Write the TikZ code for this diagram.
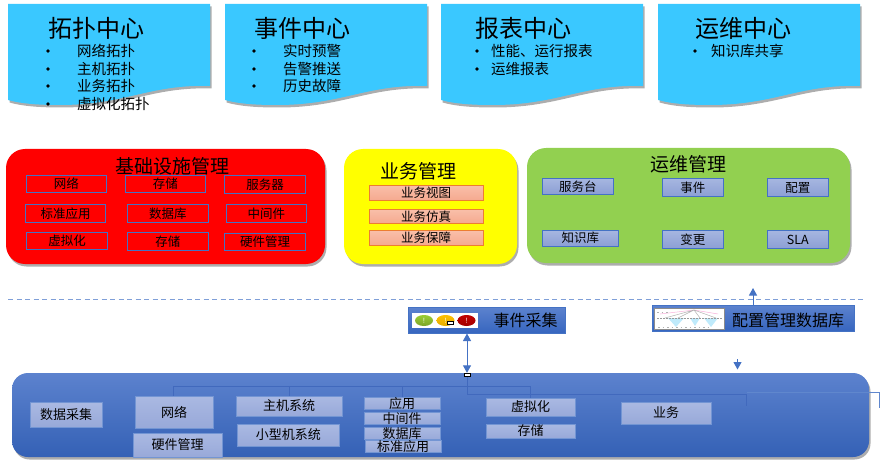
\documentclass[tikz,border=0pt]{standalone}
\usepackage{fontspec}
\setmainfont{Noto Sans CJK SC}
\usetikzlibrary{arrows.meta,shadows,shapes.geometric}
\definecolor{sky}{HTML}{3AC8FF}
\definecolor{linkblue}{HTML}{4472C4}
\definecolor{okgreen}{HTML}{92D050}
\definecolor{pureyellow}{HTML}{FFFF00}
\definecolor{purered}{HTML}{FF0000}
\definecolor{treeblue}{HTML}{4169BD}
\definecolor{dashblue}{HTML}{7F9FD8}
\definecolor{lb1}{HTML}{A6B6E0}\definecolor{lb2}{HTML}{8C9FD4}
\definecolor{lg1}{HTML}{AAB9E2}\definecolor{lg2}{HTML}{98A9D9}
\definecolor{bb1}{HTML}{5C82CE}\definecolor{bb2}{HTML}{3766BF}
\definecolor{oc1}{HTML}{F9BFA9}\definecolor{oc2}{HTML}{F5A98F}
\definecolor{ocb}{HTML}{ED7D31}
\definecolor{lampg}{HTML}{9ACD32}\definecolor{lampy}{HTML}{FFC000}\definecolor{lampr}{HTML}{C00000}
\tikzset{
  shade1/.style={general shadow={shadow xshift=1.5pt,shadow yshift=-2.5pt,fill=black,opacity=.32}},
  topbox/.style={fill=sky,shade1},
  panel/.style={rounded corners=19pt,shade1},
  bxbase/.style={inner sep=0pt,outer sep=0pt,font=\fontsize{12.5}{13}\selectfont,text=black},
  redcell/.style={bxbase,draw=linkblue,line width=.9pt},
  orangecell/.style={bxbase,draw=ocb,line width=.9pt,top color=oc1,bottom color=oc2},
  bluecell/.style={bxbase,draw=linkblue,line width=.9pt,top color=lb1,bottom color=lb2},
  graycell/.style={bxbase,draw=linkblue!75!white,line width=.8pt,top color=lg1,bottom color=lg2,font=\fontsize{13}{14}\selectfont},
  bandbox/.style={bxbase,draw=linkblue,line width=.8pt,top color=bb1,bottom color=bb2},
  ttl/.style={inner sep=0pt,text=black},
  bigttl/.style={ttl,font=\fontsize{24}{26}\selectfont},
  midttl/.style={ttl,font=\fontsize{19}{21}\selectfont},
  item/.style={inner sep=0pt,anchor=west,text=black,font=\fontsize{14.5}{16}\selectfont},
  dotmark/.style={circle,fill=black,inner sep=0pt,minimum size=3.6pt},
  linkline/.style={draw=linkblue,line width=1pt},
  treeline/.style={draw=treeblue,line width=.7pt},
  handle/.style={draw=black,fill=white,line width=.8pt,inner sep=0pt,minimum width=6pt,minimum height=3.5pt},
  lamp/.style={ellipse,inner sep=0pt,minimum width=18pt,minimum height=11pt,font=\fontsize{7}{7}\selectfont,text=white},
}
% box by corners: name, x1,y1,x2,y2, style, text
\newcommand{\bx}[7]{%
  \pgfmathsetmacro{\cxx}{(#2+#4)/2}\pgfmathsetmacro{\cyy}{(#3+#5)/2}%
  \pgfmathsetmacro{\wdd}{#4-#2}\pgfmathsetmacro{\htt}{#5-#3}%
  \node[#6,minimum width=\wdd pt,minimum height=\htt pt] (#1) at (\cxx,\cyy) {#7};}
\newcommand{\wavebox}{%
  \path[topbox] (8,4) -- (210,4) -- (210,86) .. controls (150,84) and (125,105) .. (60,105)
     .. controls (40,105) and (22,104) .. (8,100) -- cycle;}
\begin{document}
\begin{tikzpicture}[x=1pt,y=-1pt]
\useasboundingbox (0,0) rectangle (880,465);
% top wave boxes
\begin{scope}\wavebox\end{scope}
\begin{scope}[xshift=217pt]\wavebox\end{scope}
\begin{scope}[xshift=433pt]\wavebox\end{scope}
\begin{scope}[xshift=650pt]\wavebox\end{scope}
\node[bigttl] (t1) at (96,28) {拓扑中心};
\node[bigttl] (t2) at (302,28) {事件中心};
\node[bigttl] (t3) at (523,28) {报表中心};
\node[bigttl] (t4) at (743,28) {运维中心};
\foreach \n/\y/\s in {a/51/网络拓扑,b/69/主机拓扑,c/86/业务拓扑,d/104/虚拟化拓扑}{
  \node[dotmark] (d1\n) at (48,\y) {};
  \node[item] (i1\n) at (77,\y) {\s};
}
\foreach \n/\y/\s in {a/51/实时预警,b/69/告警推送,c/86/历史故障}{
  \node[dotmark] (d2\n) at (254,\y) {};
  \node[item] (i2\n) at (283,\y) {\s};
}
\foreach \n/\y/\s in {a/51/{性能、运行报表},b/69/运维报表}{
  \node[dotmark] (d3\n) at (477,\y) {};
  \node[item] (i3\n) at (491,\y) {\s};
}
\node[dotmark] (d4a) at (695,51) {};
\node[item] (i4a) at (711,51) {知识库共享};
% management panels
\path[panel,fill=purered] (6,149) rectangle (325,264);
\path[panel,fill=pureyellow] (344,149) rectangle (517,264);
\path[panel,fill=okgreen] (527,148) rectangle (850,263);
\node[midttl] (m1) at (172,166) {基础设施管理};
\node[midttl] (m2) at (418,171) {业务管理};
\node[midttl] (m3) at (688,164) {运维管理};
\bx{r1}{26}{175.5}{106.5}{192.5}{redcell}{网络}
\bx{r2}{125}{175.5}{205.5}{192.5}{redcell}{存储}
\bx{r3}{224.5}{175.5}{305.5}{193.5}{redcell}{服务器}
\bx{r4}{25.5}{204.5}{105.5}{222.5}{redcell}{标准应用}
\bx{r5}{127}{204.5}{208.5}{222.5}{redcell}{数据库}
\bx{r6}{226}{204.5}{306.5}{222.5}{redcell}{中间件}
\bx{r7}{26.5}{232.5}{107.5}{249.5}{redcell}{虚拟化}
\bx{r8}{127}{232.5}{208.5}{250.5}{redcell}{存储}
\bx{r9}{224.5}{233.5}{305.5}{250.5}{redcell}{硬件管理}
\bx{y1}{369}{185.5}{483}{200.5}{orangecell}{业务视图}
\bx{y2}{369}{209.5}{483}{223.5}{orangecell}{业务仿真}
\bx{y3}{369}{230.5}{483}{245.5}{orangecell}{业务保障}
\bx{g1}{542.5}{178.5}{613}{194}{bluecell}{服务台}
\bx{g2}{662.5}{178.5}{723}{196.5}{bluecell}{事件}
\bx{g3}{767.5}{178.5}{828}{196.5}{bluecell}{配置}
\bx{g4}{542.5}{230.5}{618}{246}{bluecell}{知识库}
\bx{g5}{662.5}{230.5}{723}{248.5}{bluecell}{变更}
\bx{g6}{767.5}{230.5}{828}{248.5}{bluecell}{SLA}
% dashed separator
\coordinate (dashL) at (8,299);
\coordinate (dashR) at (865,299);
\draw[draw=dashblue,line width=1pt,dash pattern=on 5pt off 3.5pt] (dashL) -- (dashR);
% bottom band
\path[rounded corners=16pt,top color=bb1,bottom color=bb2!95!black,shade1] (12,373) rectangle (869,457);
% tree lines
\coordinate (hub) at (467,375);
\coordinate (rowB) at (467,394);
\coordinate (rowBend) at (746.5,394);
\coordinate (rowBdrop) at (746.5,406);
\coordinate (outA) at (746.5,392);
\coordinate (outB) at (879,392);
\coordinate (outC) at (879,408);
\draw[treeline] (hub) -- (rowB) -- (rowBend) -- (rowBdrop);
\draw[treeline] (173,386) -- (530.5,386);
\foreach \xx in {173,289,402.5,530.5}{\draw[treeline] (\xx,386) -- (\xx,398);}
\draw[draw=linkblue!85!white,line width=.7pt] (outA) -- (outB) -- (outC);
% bottom cells
\bx{c1}{30}{402}{102}{427}{graycell}{数据采集}
\bx{c2}{135}{396}{213}{428}{graycell}{网络}
\bx{c3}{133}{433}{222}{457}{graycell}{硬件管理}
\bx{c4}{236}{396}{342}{416}{graycell}{主机系统}
\bx{c5}{237.5}{424}{339}{446}{graycell}{小型机系统}
\bx{c6}{364}{398}{440}{409}{graycell}{应用}
\bx{c7}{364}{413}{440}{424}{graycell}{中间件}
\bx{c8}{364}{428}{440}{439}{graycell}{数据库}
\bx{c9}{365}{441}{441}{452}{graycell}{标准应用}
\bx{c10}{486}{398}{575}{416}{graycell}{虚拟化}
\bx{c11}{486}{424}{575}{438}{graycell}{存储}
\bx{c12}{621}{402}{711}{424}{graycell}{业务}
% event collection box
\bx{ev}{408.5}{307}{565}{333}{bandbox}{}
\bx{evimg}{412}{313}{478}{328}{fill=white,inner sep=0pt}{}
\node[lamp,top color=lampg,bottom color=lampg!80!black] (l1) at (424,320.5) {!};
\node[lamp,top color=lampy,bottom color=lampy!90!black] (l2) at (445.5,320.5) {!};
\node[lamp,top color=lampr,bottom color=lampr!85!black] (l3) at (466.5,320.5) {!};
\node[handle] (evh) at (450.5,322.8) {};
\node[ttl,font=\fontsize{16}{18}\selectfont] (evt) at (525.5,320) {事件采集};
% CMDB box
\bx{db}{652}{305}{854}{331}{bandbox}{}
\bx{dbimg}{654.5}{308}{724}{329}{fill=white,draw=black!45,line width=.8pt}{}
\begin{scope}
  \fill[cyan!25] (668,318) -- (676,327) -- (684,318) -- cycle;
  \fill[cyan!25] (690,318) -- (695,326) -- (700,318) -- cycle;
  \fill[cyan!25] (704,318) -- (711,327) -- (718,318) -- cycle;
  \draw[magenta!30,line width=.5pt] (660,314) -- (694,310) -- (718,314);
  \draw[black!30,line width=.5pt] (665,318) -- (694,310) -- (716,318) (678,318) -- (694,310) -- (700,318);
  \draw[black!40,line width=1pt,dash pattern=on 1.5pt off 1.5pt] (657,318) -- (722,318);
  \draw[black!30,line width=1pt,dash pattern=on 1.5pt off 3pt] (657,312) -- (668,312) (658,327) -- (712,327);
\end{scope}
\node[ttl,font=\fontsize{16}{18}\selectfont] (dbt) at (788,320) {配置管理数据库};
% connectors
\node[handle] (top) at (467,375) {};
\draw[linkline,{Triangle[width=8pt,length=7.5pt]}-{Triangle[width=8pt,length=7.5pt]}] (467,333.5) -- (top.north);
\coordinate (upEnd) at (753,288);
\draw[linkline,-{Triangle[width=8pt,length=7.5pt]}] (db.north -| upEnd) -- (upEnd);
\coordinate (dnA) at (737.5,359);
\coordinate (dnB) at (737.5,369.5);
\draw[linkline,-{Triangle[width=8pt,length=7.5pt]}] (dnA) -- (dnB);
\end{tikzpicture}
\end{document}
